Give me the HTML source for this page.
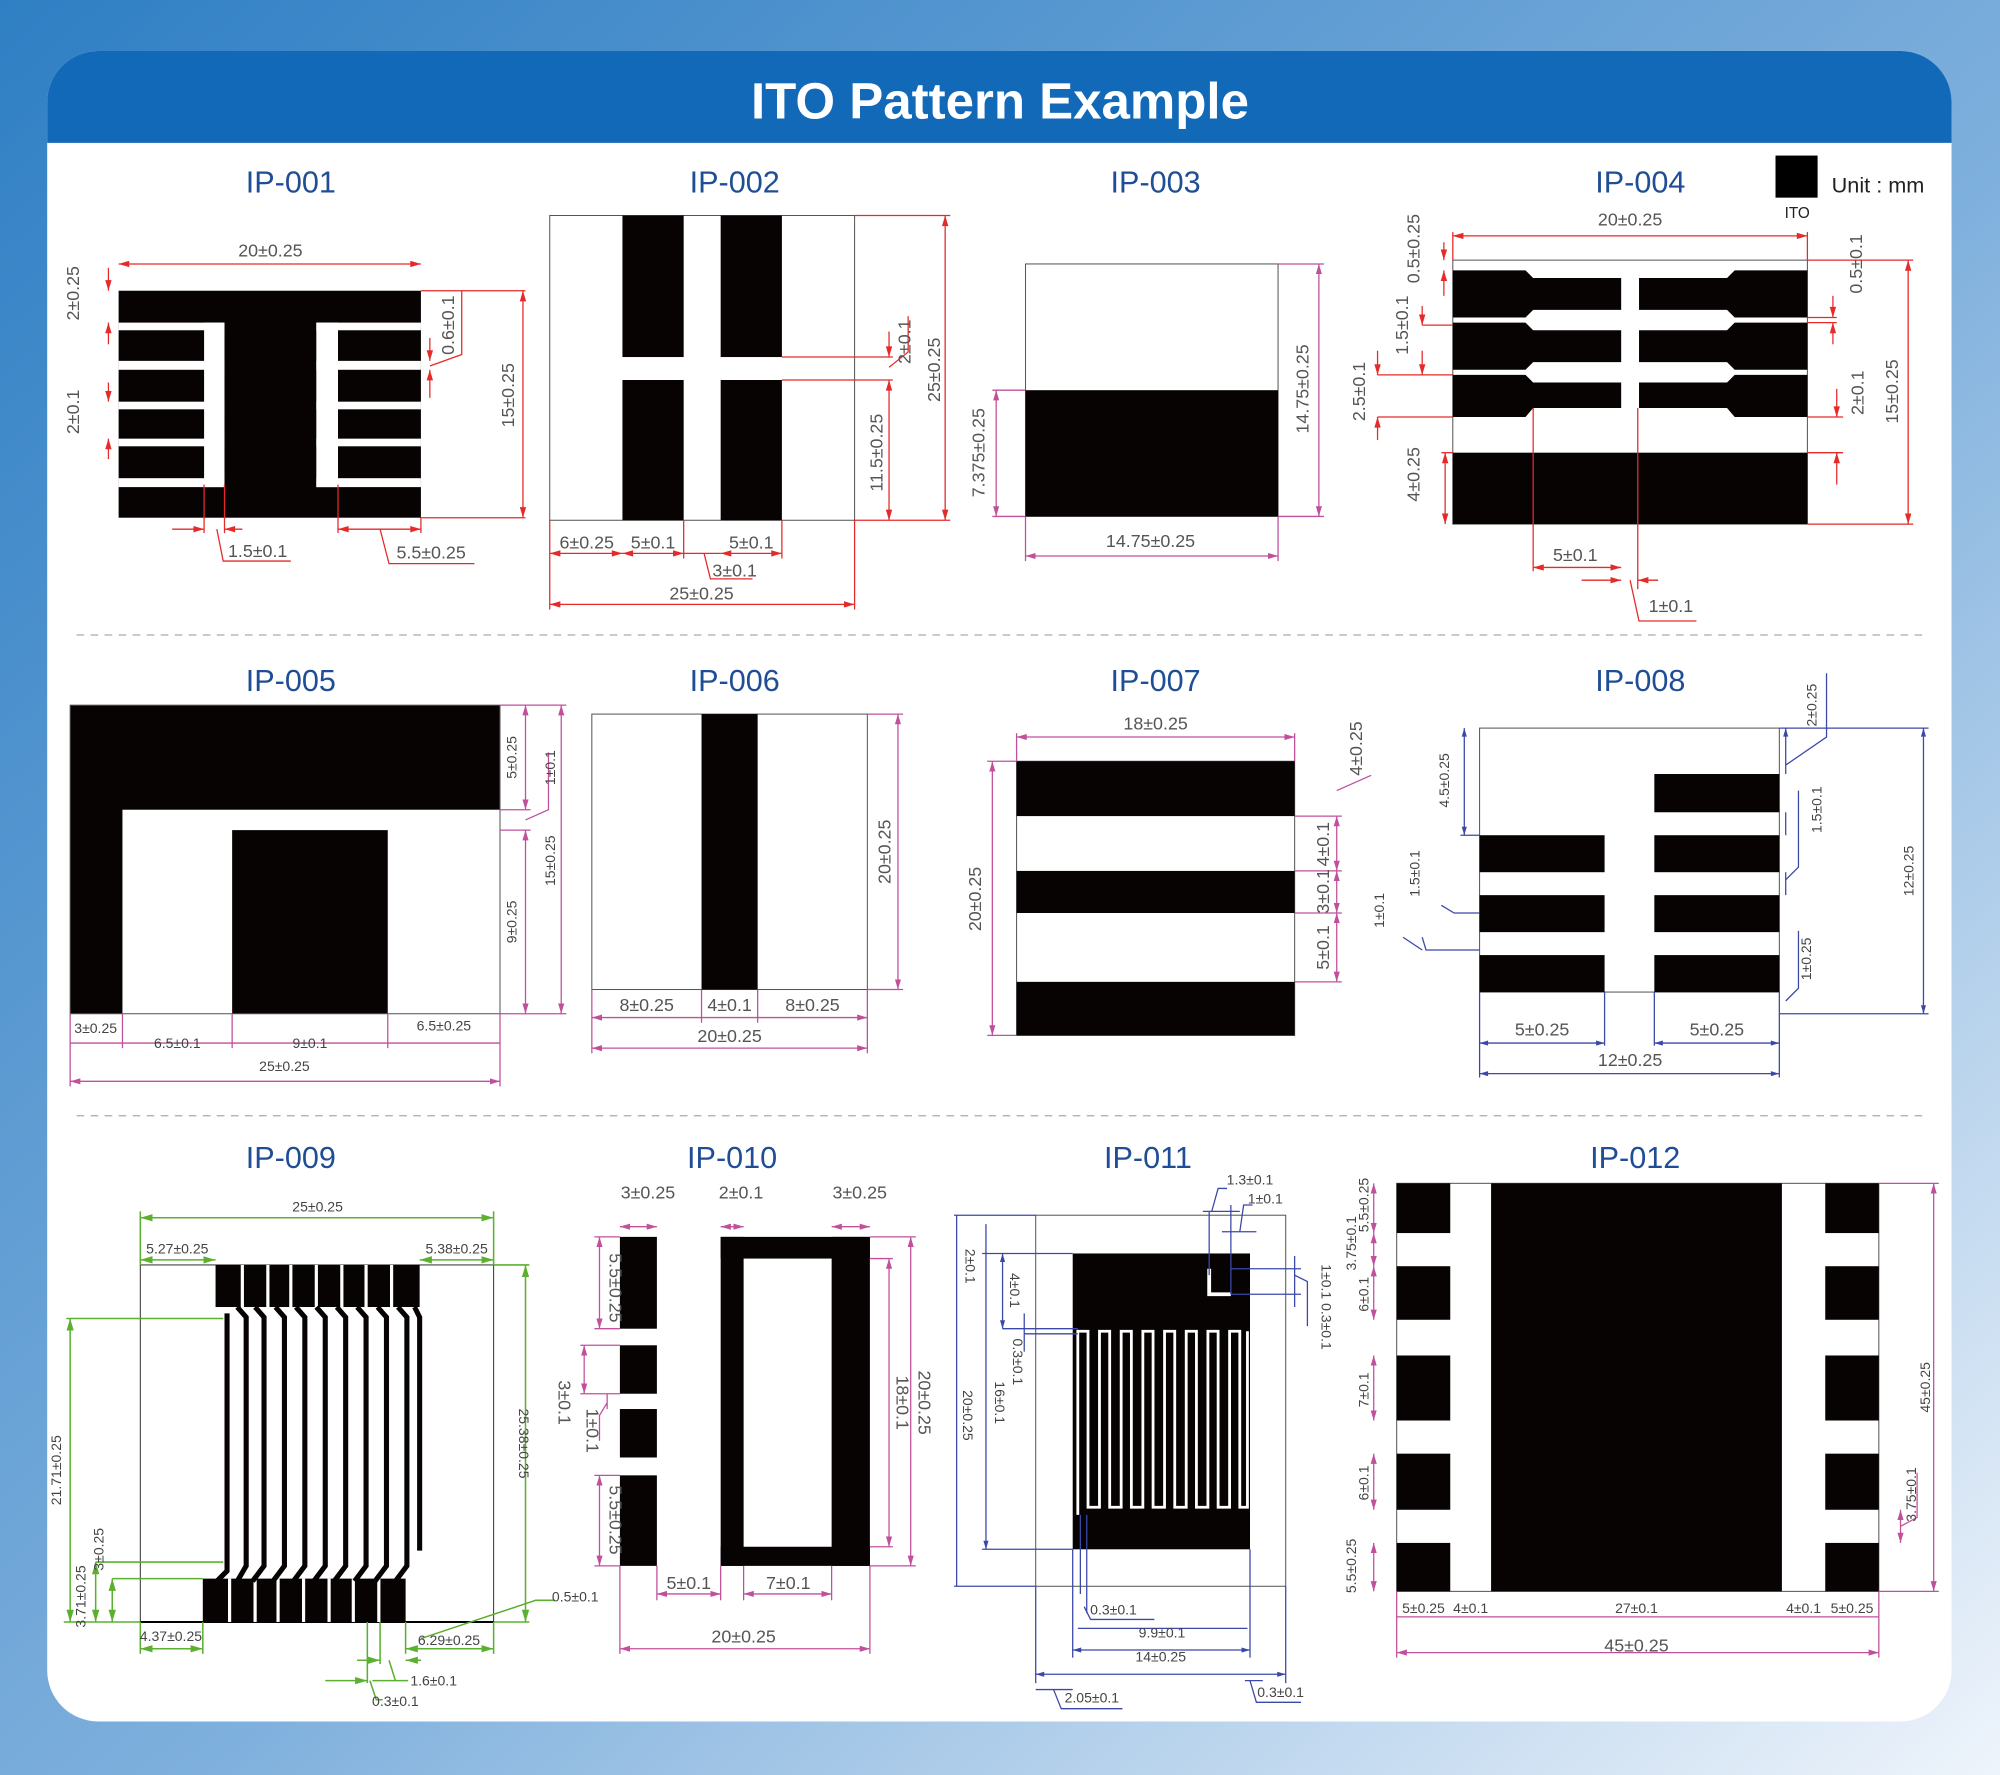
<!DOCTYPE html>
<html><head><meta charset="utf-8"><style>
html,body{margin:0;padding:0;width:2000px;height:1775px;overflow:hidden}
svg{display:block}
text{font-family:"Liberation Sans",sans-serif}
.t{fill:#1f4e96;font-size:24px;text-anchor:middle}
.dr{fill:#555;font-size:14px;text-anchor:middle;font-family:"Liberation Sans Narrow","Liberation Sans",sans-serif}
.ds{fill:#444;font-size:11px;text-anchor:middle}
.r{stroke:#e52a2a;stroke-width:1;fill:none}
.p{stroke:#c0509c;stroke-width:1;fill:none}
.b{stroke:#3a48a8;stroke-width:1;fill:none}
.g{stroke:#5cb030;stroke-width:1.2;fill:none}
.o{stroke:#555;stroke-width:0.8;fill:none}
</style></head><body>
<svg width="2000" height="1775" viewBox="0 0 1568 1392" preserveAspectRatio="none" xmlns="http://www.w3.org/2000/svg">
<defs>
<linearGradient id="bg" x1="0" y1="0" x2="1" y2="1">
<stop offset="0" stop-color="#2f7fc4"/><stop offset="0.55" stop-color="#7fb0dd"/><stop offset="1" stop-color="#eef4fb"/>
</linearGradient>
<marker id="ar" viewBox="0 0 10 6" refX="10" refY="3" markerWidth="9" markerHeight="5" orient="auto-start-reverse"><path d="M0,0L10,3L0,6z" fill="#e52a2a"/></marker>
<marker id="ap" viewBox="0 0 10 6" refX="10" refY="3" markerWidth="8" markerHeight="5" orient="auto-start-reverse"><path d="M0,0L10,3L0,6z" fill="#c0509c"/></marker>
<marker id="ab" viewBox="0 0 10 6" refX="10" refY="3" markerWidth="7" markerHeight="4" orient="auto-start-reverse"><path d="M0,0L10,3L0,6z" fill="#3a48a8"/></marker>
<marker id="ag" viewBox="0 0 10 6" refX="10" refY="3" markerWidth="8" markerHeight="5" orient="auto-start-reverse"><path d="M0,0L10,3L0,6z" fill="#5cb030"/></marker>
</defs>
<rect width="1568" height="1392" fill="url(#bg)"/>
<path d="M77,40H1490a40,40 0 0 1 40,40V1310a40,40 0 0 1 -40,40H77a40,40 0 0 1 -40,-40V80a40,40 0 0 1 40,-40z" fill="#fff"/>
<path d="M77,40H1490a40,40 0 0 1 40,40V112H37V80a40,40 0 0 1 40,-40z" fill="#1169b8"/>
<text x="784" y="93" fill="#fff" font-size="40" font-weight="bold" text-anchor="middle">ITO Pattern Example</text>
<line x1="60" y1="498" x2="1510" y2="498" stroke="#aaa" stroke-dasharray="6,5"/>
<line x1="60" y1="875" x2="1510" y2="875" stroke="#aaa" stroke-dasharray="6,5"/>

<text class="t" x="228" y="151">IP-001</text><text class="t" x="576" y="151">IP-002</text><text class="t" x="906" y="151">IP-003</text><text class="t" x="1286" y="151">IP-004</text>
<text class="t" x="228" y="542">IP-005</text><text class="t" x="576" y="542">IP-006</text><text class="t" x="906" y="542">IP-007</text><text class="t" x="1286" y="542">IP-008</text>
<text class="t" x="228" y="916">IP-009</text><text class="t" x="574" y="916">IP-010</text><text class="t" x="900" y="916">IP-011</text><text class="t" x="1282" y="916">IP-012</text>
<rect x="1392" y="122" width="33" height="33" fill="#000"/>
<text x="1436" y="151" font-size="17" fill="#222">Unit : mm</text>
<text x="1409" y="171" font-size="12" fill="#222" text-anchor="middle">ITO</text>

<!-- IP-001 -->
<rect x="93" y="228" width="237" height="178" fill="#070303"/>
<g fill="#fff">
<rect x="160" y="253" width="16" height="129"/><rect x="248" y="253" width="17" height="129"/>
<rect x="93" y="253" width="83" height="6"/><rect x="93" y="283" width="83" height="7"/><rect x="93" y="315" width="83" height="6"/><rect x="93" y="344" width="83" height="6"/><rect x="93" y="375" width="83" height="7"/>
<rect x="248" y="253" width="82" height="6"/><rect x="248" y="283" width="82" height="7"/><rect x="248" y="315" width="82" height="6"/><rect x="248" y="344" width="82" height="6"/><rect x="248" y="375" width="82" height="7"/>
</g>
<g class="r">
<line x1="93" y1="207" x2="330" y2="207" marker-start="url(#ar)" marker-end="url(#ar)"/>
<line x1="330" y1="228" x2="412" y2="228"/><line x1="330" y1="406" x2="412" y2="406"/>
<line x1="410" y1="228" x2="410" y2="406" marker-start="url(#ar)" marker-end="url(#ar)"/>
<line x1="85" y1="210" x2="85" y2="228" marker-end="url(#ar)"/><line x1="85" y1="253" x2="85" y2="270" marker-start="url(#ar)"/>
<line x1="85" y1="300" x2="85" y2="315" marker-end="url(#ar)"/><line x1="85" y1="344" x2="85" y2="360" marker-start="url(#ar)"/>
<line x1="337" y1="265" x2="337" y2="283" marker-end="url(#ar)"/><line x1="337" y1="290" x2="337" y2="312" marker-start="url(#ar)"/>
<polyline points="337,287 362,278 362,228"/>
<line x1="135" y1="415" x2="160" y2="415" marker-end="url(#ar)"/><line x1="176" y1="415" x2="190" y2="415" marker-start="url(#ar)"/>
<line x1="160" y1="380" x2="160" y2="418"/><line x1="176" y1="380" x2="176" y2="418"/>
<polyline points="170,415 175,440 228,440"/>
<line x1="265" y1="415" x2="330" y2="415" marker-start="url(#ar)" marker-end="url(#ar)"/><line x1="265" y1="380" x2="265" y2="418"/><line x1="330" y1="406" x2="330" y2="418"/>
<polyline points="298,415 305,442 372,442"/>
</g>
<text class="dr" x="212" y="201">20±0.25</text>
<text class="dr" x="202" y="437">1.5±0.1</text><text class="dr" x="338" y="438">5.5±0.25</text>
<text class="dr" transform="translate(62,230) rotate(-90)">2±0.25</text>
<text class="dr" transform="translate(62,323) rotate(-90)">2±0.1</text>
<text class="dr" transform="translate(356,255) rotate(-90)">0.6±0.1</text>
<text class="dr" transform="translate(403,310) rotate(-90)">15±0.25</text>

<!-- IP-002 -->
<rect x="431" y="169" width="239" height="239" class="o"/>
<g fill="#070303"><rect x="488" y="169" width="48" height="111"/><rect x="488" y="298" width="48" height="110"/><rect x="565" y="169" width="48" height="111"/><rect x="565" y="298" width="48" height="110"/></g>
<g class="r">
<line x1="670" y1="169" x2="745" y2="169"/><line x1="670" y1="408" x2="745" y2="408"/>
<line x1="741" y1="169" x2="741" y2="408" marker-start="url(#ar)" marker-end="url(#ar)"/>
<line x1="613" y1="280" x2="700" y2="280"/><line x1="613" y1="298" x2="700" y2="298"/>
<line x1="697" y1="260" x2="697" y2="280" marker-end="url(#ar)"/><line x1="697" y1="298" x2="697" y2="408" marker-start="url(#ar)" marker-end="url(#ar)"/>
<polyline points="697,288 712,276 712,248"/>
<line x1="431" y1="408" x2="431" y2="478"/><line x1="670" y1="408" x2="670" y2="478"/>
<line x1="431" y1="474" x2="670" y2="474" marker-start="url(#ar)" marker-end="url(#ar)"/>
<line x1="431" y1="434" x2="488" y2="434" marker-start="url(#ar)" marker-end="url(#ar)"/>
<line x1="488" y1="434" x2="536" y2="434" marker-start="url(#ar)" marker-end="url(#ar)"/>
<line x1="565" y1="434" x2="613" y2="434" marker-start="url(#ar)" marker-end="url(#ar)"/>
<line x1="536" y1="434" x2="565" y2="434"/><line x1="613" y1="408" x2="613" y2="438"/><line x1="536" y1="408" x2="536" y2="438"/>
<polyline points="552,434 557,454 590,454"/>
</g>
<text class="dr" x="460" y="430">6±0.25</text><text class="dr" x="512" y="430">5±0.1</text><text class="dr" x="589" y="430">5±0.1</text>
<text class="dr" x="576" y="452">3±0.1</text><text class="dr" x="550" y="470">25±0.25</text>
<text class="dr" transform="translate(737,290) rotate(-90)">25±0.25</text>
<text class="dr" transform="translate(692,355) rotate(-90)">11.5±0.25</text>
<text class="dr" transform="translate(714,268) rotate(-90)">2±0.1</text>

<!-- IP-003 -->
<rect x="804" y="207" width="198" height="198" class="o"/>
<rect x="804" y="306" width="198" height="99" fill="#070303"/>
<g class="p">
<line x1="1002" y1="207" x2="1038" y2="207"/><line x1="1002" y1="405" x2="1038" y2="405"/>
<line x1="1034" y1="207" x2="1034" y2="405" marker-start="url(#ap)" marker-end="url(#ap)"/>
<line x1="778" y1="306" x2="804" y2="306"/><line x1="778" y1="405" x2="804" y2="405"/>
<line x1="781" y1="306" x2="781" y2="405" marker-start="url(#ap)" marker-end="url(#ap)"/>
<line x1="804" y1="405" x2="804" y2="440"/><line x1="1002" y1="405" x2="1002" y2="440"/>
<line x1="804" y1="436" x2="1002" y2="436" marker-start="url(#ap)" marker-end="url(#ap)"/>
</g>
<text class="dr" x="902" y="429" font-size="17">14.75±0.25</text>
<text class="dr" font-size="17" transform="translate(1026,305) rotate(-90)">14.75±0.25</text>
<text class="dr" font-size="17" transform="translate(772,355) rotate(-90)">7.375±0.25</text>

<!-- IP-004 -->
<rect x="1139" y="204" width="278" height="207" class="o"/>
<g fill="#070303">
<path d="M1139,212H1196L1202,218H1271V243H1202L1196,249H1139z"/>
<path d="M1417,212H1360L1354,218H1285V243H1354L1360,249H1417z"/>
<path d="M1139,253H1196L1202,259H1271V284H1202L1196,290H1139z"/>
<path d="M1417,253H1360L1354,259H1285V284H1354L1360,290H1417z"/>
<path d="M1139,294H1196L1202,300H1271V320H1202L1196,327H1139z"/>
<path d="M1417,294H1360L1354,300H1285V320H1354L1360,327H1417z"/>
<rect x="1139" y="355" width="278" height="56"/>
</g>
<g class="r">
<line x1="1139" y1="185" x2="1417" y2="185" marker-start="url(#ar)" marker-end="url(#ar)"/>
<line x1="1139" y1="182" x2="1139" y2="204"/><line x1="1417" y1="182" x2="1417" y2="204"/>
<line x1="1417" y1="204" x2="1500" y2="204"/><line x1="1417" y1="411" x2="1500" y2="411"/>
<line x1="1496" y1="204" x2="1496" y2="411" marker-start="url(#ar)" marker-end="url(#ar)"/>
<line x1="1130" y1="355" x2="1139" y2="355"/><line x1="1133" y1="355" x2="1133" y2="411" marker-start="url(#ar)" marker-end="url(#ar)"/>
<line x1="1417" y1="355" x2="1445" y2="355"/><line x1="1417" y1="327" x2="1445" y2="327"/>
<line x1="1440" y1="327" x2="1440" y2="305" marker-start="url(#ar)"/><line x1="1440" y1="355" x2="1440" y2="380" marker-start="url(#ar)"/>
<line x1="1437" y1="232" x2="1437" y2="249" marker-end="url(#ar)"/><line x1="1437" y1="253" x2="1437" y2="270" marker-start="url(#ar)"/>
<line x1="1417" y1="249" x2="1440" y2="249"/><line x1="1417" y1="253" x2="1440" y2="253"/>
<line x1="1132" y1="190" x2="1132" y2="204" marker-end="url(#ar)"/><line x1="1132" y1="212" x2="1132" y2="232" marker-start="url(#ar)"/>
<line x1="1115" y1="240" x2="1115" y2="255" marker-end="url(#ar)"/><line x1="1115" y1="294" x2="1115" y2="275" marker-start="url(#ar)"/>
<line x1="1115" y1="255" x2="1139" y2="255"/><line x1="1080" y1="294" x2="1139" y2="294"/><line x1="1080" y1="327" x2="1139" y2="327"/>
<line x1="1080" y1="275" x2="1080" y2="294" marker-end="url(#ar)"/><line x1="1080" y1="327" x2="1080" y2="345" marker-start="url(#ar)"/>
<line x1="1202" y1="320" x2="1202" y2="448"/><line x1="1284" y1="320" x2="1284" y2="462"/>
<line x1="1202" y1="445" x2="1271" y2="445" marker-start="url(#ar)" marker-end="url(#ar)"/>
<line x1="1240" y1="455" x2="1271" y2="455" marker-end="url(#ar)"/><line x1="1284" y1="455" x2="1300" y2="455" marker-start="url(#ar)"/>
<polyline points="1278,455 1285,487 1330,487"/>
</g>
<text class="dr" x="1278" y="177" font-size="17">20±0.25</text>
<text class="dr" x="1235" y="440" font-size="17">5±0.1</text><text class="dr" x="1310" y="480" font-size="17">1±0.1</text>
<text class="dr" font-size="17" transform="translate(1113,195) rotate(-90)">0.5±0.25</text>
<text class="dr" font-size="17" transform="translate(1104,255) rotate(-90)">1.5±0.1</text>
<text class="dr" font-size="17" transform="translate(1070,307) rotate(-90)">2.5±0.1</text>
<text class="dr" font-size="17" transform="translate(1113,372) rotate(-90)">4±0.25</text>
<text class="dr" font-size="17" transform="translate(1460,207) rotate(-90)">0.5±0.1</text>
<text class="dr" font-size="17" transform="translate(1461,308) rotate(-90)">2±0.1</text>
<text class="dr" font-size="17" transform="translate(1488,307) rotate(-90)">15±0.25</text>

<!-- IP-005 -->
<rect x="55" y="553" width="337" height="242" fill="#070303"/>
<rect x="96" y="635" width="296" height="160" fill="#fff"/>
<rect x="182" y="651" width="122" height="144" fill="#070303"/>
<rect x="55" y="553" width="337" height="242" class="o"/>
<g class="p">
<line x1="392" y1="553" x2="444" y2="553"/><line x1="392" y1="795" x2="444" y2="795"/><line x1="392" y1="635" x2="416" y2="635"/><line x1="392" y1="651" x2="416" y2="651"/>
<line x1="440" y1="553" x2="440" y2="795" marker-start="url(#ap)" marker-end="url(#ap)"/>
<line x1="412" y1="553" x2="412" y2="635" marker-start="url(#ap)" marker-end="url(#ap)"/>
<line x1="412" y1="651" x2="412" y2="795" marker-start="url(#ap)" marker-end="url(#ap)"/>
<polyline points="412,643 430,635 430,590"/>
<line x1="55" y1="795" x2="55" y2="852"/><line x1="392" y1="795" x2="392" y2="852"/>
<line x1="55" y1="848" x2="392" y2="848" marker-start="url(#ap)" marker-end="url(#ap)"/>
<line x1="55" y1="818" x2="392" y2="818"/>
<line x1="96" y1="795" x2="96" y2="822"/><line x1="182" y1="795" x2="182" y2="822"/><line x1="304" y1="795" x2="304" y2="822"/>
</g>
<text class="ds" x="75" y="810">3±0.25</text><text class="ds" x="139" y="822">6.5±0.1</text><text class="ds" x="243" y="822">9±0.1</text><text class="ds" x="348" y="808">6.5±0.25</text><text class="ds" x="223" y="840">25±0.25</text>
<text class="ds" transform="translate(405,594) rotate(-90)">5±0.25</text>
<text class="ds" transform="translate(435,602) rotate(-90)">1±0.1</text>
<text class="ds" transform="translate(435,675) rotate(-90)">15±0.25</text>
<text class="ds" transform="translate(405,723) rotate(-90)">9±0.25</text>

<!-- IP-006 -->
<rect x="464" y="560" width="216" height="216" class="o"/>
<rect x="550" y="560" width="44" height="216" fill="#070303"/>
<g class="p">
<line x1="680" y1="560" x2="708" y2="560"/><line x1="680" y1="776" x2="708" y2="776"/>
<line x1="704" y1="560" x2="704" y2="776" marker-start="url(#ap)" marker-end="url(#ap)"/>
<line x1="464" y1="776" x2="464" y2="826"/><line x1="680" y1="776" x2="680" y2="826"/><line x1="550" y1="776" x2="550" y2="802"/><line x1="594" y1="776" x2="594" y2="802"/>
<line x1="464" y1="798" x2="680" y2="798" marker-start="url(#ap)" marker-end="url(#ap)"/>
<line x1="464" y1="822" x2="680" y2="822" marker-start="url(#ap)" marker-end="url(#ap)"/>
</g>
<text class="dr" x="507" y="793" font-size="16">8±0.25</text><text class="dr" x="572" y="793" font-size="16">4±0.1</text><text class="dr" x="637" y="793" font-size="16">8±0.25</text>
<text class="dr" x="572" y="817" font-size="16">20±0.25</text>
<text class="dr" font-size="16" transform="translate(698,668) rotate(-90)">20±0.25</text>

<!-- IP-007 -->
<rect x="797" y="597" width="218" height="215" class="o"/>
<g fill="#070303"><rect x="797" y="597" width="218" height="43"/><rect x="797" y="683" width="218" height="33"/><rect x="797" y="770" width="218" height="42"/></g>
<g class="p">
<line x1="797" y1="578" x2="1015" y2="578" marker-start="url(#ap)" marker-end="url(#ap)"/>
<line x1="797" y1="575" x2="797" y2="597"/><line x1="1015" y1="575" x2="1015" y2="597"/>
<line x1="774" y1="597" x2="797" y2="597"/><line x1="774" y1="812" x2="797" y2="812"/>
<line x1="778" y1="597" x2="778" y2="812" marker-start="url(#ap)" marker-end="url(#ap)"/>
<line x1="1015" y1="640" x2="1052" y2="640"/><line x1="1015" y1="683" x2="1052" y2="683"/><line x1="1015" y1="716" x2="1052" y2="716"/><line x1="1015" y1="770" x2="1052" y2="770"/>
<line x1="1048" y1="640" x2="1048" y2="683" marker-start="url(#ap)" marker-end="url(#ap)"/>
<line x1="1048" y1="683" x2="1048" y2="716" marker-start="url(#ap)" marker-end="url(#ap)"/>
<line x1="1048" y1="716" x2="1048" y2="770" marker-start="url(#ap)" marker-end="url(#ap)"/>
<polyline points="1048,620 1075,608"/>
</g>
<text class="dr" x="906" y="572" font-size="16">18±0.25</text>
<text class="dr" font-size="16" transform="translate(769,705) rotate(-90)">20±0.25</text>
<text class="dr" font-size="14" transform="translate(1068,587) rotate(-90)">4±0.25</text>
<text class="dr" font-size="14" transform="translate(1042,662) rotate(-90)">4±0.1</text>
<text class="dr" font-size="14" transform="translate(1042,699) rotate(-90)">3±0.1</text>
<text class="dr" font-size="14" transform="translate(1042,743) rotate(-90)">5±0.1</text>

<!-- IP-008 -->
<rect x="1160" y="571" width="235" height="207" class="o"/>
<g fill="#070303"><rect x="1297" y="607" width="98" height="30"/>
<rect x="1160" y="655" width="98" height="29"/><rect x="1160" y="702" width="98" height="29"/><rect x="1160" y="749" width="98" height="29"/>
<rect x="1297" y="655" width="98" height="29"/><rect x="1297" y="702" width="98" height="29"/><rect x="1297" y="749" width="98" height="29"/></g>
<g class="b">
<line x1="1395" y1="571" x2="1512" y2="571"/><line x1="1395" y1="795" x2="1512" y2="795"/>
<line x1="1508" y1="571" x2="1508" y2="795" marker-start="url(#ab)" marker-end="url(#ab)"/>
<line x1="1400" y1="607" x2="1400" y2="571" marker-end="url(#ab)"/><polyline points="1400,600 1432,578 1432,528"/>
<line x1="1400" y1="637" x2="1400" y2="655"/><line x1="1400" y1="684" x2="1400" y2="702"/>
<polyline points="1400,690 1410,680 1410,620"/><polyline points="1400,785 1410,775 1410,730"/>
<line x1="1148" y1="571" x2="1148" y2="655" marker-start="url(#ab)" marker-end="url(#ab)"/>
<line x1="1145" y1="655" x2="1160" y2="655"/>
<polyline points="1130,710 1140,716 1160,716"/><polyline points="1115,735 1118,745 1160,745"/><polyline points="1100,735 1115,745"/>
<line x1="1160" y1="778" x2="1160" y2="845"/><line x1="1395" y1="778" x2="1395" y2="845"/><line x1="1258" y1="778" x2="1258" y2="820"/><line x1="1297" y1="778" x2="1297" y2="820"/>
<line x1="1160" y1="818" x2="1258" y2="818" marker-start="url(#ab)" marker-end="url(#ab)"/>
<line x1="1297" y1="818" x2="1395" y2="818" marker-start="url(#ab)" marker-end="url(#ab)"/>
<line x1="1160" y1="842" x2="1395" y2="842" marker-start="url(#ab)" marker-end="url(#ab)"/>
</g>
<text class="dr" x="1209" y="812">5±0.25</text><text class="dr" x="1346" y="812">5±0.25</text><text class="dr" x="1278" y="836">12±0.25</text>
<text class="ds" transform="translate(1136,612) rotate(-90)">4.5±0.25</text>
<text class="ds" transform="translate(1113,685) rotate(-90)">1.5±0.1</text>
<text class="ds" transform="translate(1085,714) rotate(-90)">1±0.1</text>
<text class="ds" transform="translate(1424,553) rotate(-90)">2±0.25</text>
<text class="ds" transform="translate(1428,635) rotate(-90)">1.5±0.1</text>
<text class="ds" transform="translate(1420,752) rotate(-90)">1±0.25</text>
<text class="ds" transform="translate(1500,683) rotate(-90)">12±0.25</text>

<!-- IP-009 -->
<rect x="110" y="992" width="277" height="280" stroke="#333" stroke-width="0.8" fill="none"/>
<line x1="110" y1="1272" x2="387" y2="1272" stroke="#000" stroke-width="1.5"/>
<g fill="#070303">
<rect x="169" y="992" width="160" height="33"/>
<rect x="159" y="1238" width="159" height="34"/>
</g>
<g stroke="#fff" stroke-width="2.5">
<line x1="190" y1="992" x2="190" y2="1025"/><line x1="210" y1="992" x2="210" y2="1025"/><line x1="228" y1="992" x2="228" y2="1025"/><line x1="248" y1="992" x2="248" y2="1025"/><line x1="268" y1="992" x2="268" y2="1025"/><line x1="287" y1="992" x2="287" y2="1025"/><line x1="307" y1="992" x2="307" y2="1025"/>
<line x1="180" y1="1238" x2="180" y2="1272"/><line x1="200" y1="1238" x2="200" y2="1272"/><line x1="218" y1="1238" x2="218" y2="1272"/><line x1="238" y1="1238" x2="238" y2="1272"/><line x1="258" y1="1238" x2="258" y2="1272"/><line x1="277" y1="1238" x2="277" y2="1272"/><line x1="297" y1="1238" x2="297" y2="1272"/>
</g>
<g stroke="#070303" stroke-width="4" fill="none">
<polyline points="178,1030 178,1232 170,1240"/>
<polyline points="186,1025 193,1033 193,1228 186,1240"/>
<polyline points="200,1025 207,1033 207,1228 198,1240"/>
<polyline points="216,1025 223,1033 223,1228 214,1240"/>
<polyline points="232,1025 239,1033 239,1228 230,1240"/>
<polyline points="248,1025 255,1033 255,1228 246,1240"/>
<polyline points="264,1025 271,1033 271,1228 262,1240"/>
<polyline points="280,1025 287,1033 287,1228 278,1240"/>
<polyline points="296,1025 303,1033 303,1228 294,1240"/>
<polyline points="312,1025 319,1033 319,1228 310,1240"/>
<polyline points="325,1025 329,1033 329,1216"/>
</g>
<g class="g">
<line x1="110" y1="955" x2="387" y2="955" marker-start="url(#ag)" marker-end="url(#ag)"/>
<line x1="110" y1="950" x2="110" y2="992"/><line x1="387" y1="950" x2="387" y2="992"/>
<line x1="110" y1="988" x2="169" y2="988" marker-start="url(#ag)" marker-end="url(#ag)"/>
<line x1="329" y1="988" x2="387" y2="988" marker-start="url(#ag)" marker-end="url(#ag)"/>
<line x1="387" y1="992" x2="415" y2="992"/><line x1="387" y1="1272" x2="415" y2="1272"/>
<line x1="412" y1="992" x2="412" y2="1272" marker-start="url(#ag)" marker-end="url(#ag)"/>
<line x1="52" y1="1034" x2="175" y2="1034"/><line x1="50" y1="1272" x2="110" y2="1272"/>
<line x1="55" y1="1034" x2="55" y2="1272" marker-start="url(#ag)" marker-end="url(#ag)"/>
<line x1="75" y1="1225" x2="175" y2="1225"/><line x1="88" y1="1238" x2="159" y2="1238"/>
<line x1="75" y1="1225" x2="75" y2="1272" marker-start="url(#ag)" marker-end="url(#ag)"/>
<line x1="88" y1="1238" x2="88" y2="1272" marker-start="url(#ag)" marker-end="url(#ag)"/>
<line x1="110" y1="1272" x2="110" y2="1297"/><line x1="159" y1="1272" x2="159" y2="1297"/>
<line x1="110" y1="1293" x2="159" y2="1293" marker-start="url(#ag)" marker-end="url(#ag)"/>
<line x1="318" y1="1272" x2="318" y2="1297"/><line x1="387" y1="1272" x2="387" y2="1297"/>
<line x1="318" y1="1293" x2="387" y2="1293" marker-start="url(#ag)" marker-end="url(#ag)"/>
<polyline points="330,1285 420,1255 435,1255"/>
<line x1="288" y1="1272" x2="288" y2="1320"/><line x1="298" y1="1272" x2="298" y2="1305"/>
<line x1="280" y1="1302" x2="298" y2="1302" marker-end="url(#ag)"/><line x1="318" y1="1302" x2="330" y2="1302" marker-start="url(#ag)"/>
<line x1="255" y1="1318" x2="288" y2="1318" marker-end="url(#ag)"/><line x1="292" y1="1318" x2="310" y2="1318"/>
<polyline points="305,1302 310,1318 320,1318"/><polyline points="290,1318 295,1333 300,1333"/>
</g>
<text class="ds" x="249" y="950">25±0.25</text><text class="ds" x="139" y="983">5.27±0.25</text><text class="ds" x="358" y="983">5.38±0.25</text>
<text class="ds" x="134" y="1287">4.37±0.25</text><text class="ds" x="352" y="1290">6.29±0.25</text><text class="ds" x="451" y="1256">0.5±0.1</text>
<text class="ds" x="340" y="1322">1.6±0.1</text><text class="ds" x="310" y="1338">0.3±0.1</text>
<text class="ds" transform="translate(48,1153) rotate(-90)">21.71±0.25</text>
<text class="ds" transform="translate(407,1132) rotate(90)">25.38±0.25</text>
<text class="ds" transform="translate(81,1215) rotate(-90)">3±0.25</text>
<text class="ds" transform="translate(67,1252) rotate(-90)">3.71±0.25</text>

<!-- IP-010 -->
<g fill="#070303">
<rect x="486" y="970" width="29" height="72"/><rect x="486" y="1055" width="29" height="38"/><rect x="486" y="1105" width="29" height="38"/><rect x="486" y="1157" width="29" height="71"/>
<rect x="565" y="970" width="18" height="258"/><rect x="565" y="970" width="117" height="17"/><rect x="565" y="1213" width="117" height="15"/><rect x="652" y="970" width="30" height="258"/>
</g>
<g class="p">
<line x1="486" y1="962" x2="515" y2="962" marker-start="url(#ap)" marker-end="url(#ap)"/>
<line x1="565" y1="962" x2="583" y2="962" marker-start="url(#ap)" marker-end="url(#ap)"/>
<line x1="652" y1="962" x2="682" y2="962" marker-start="url(#ap)" marker-end="url(#ap)"/>
<line x1="682" y1="970" x2="718" y2="970"/><line x1="682" y1="1228" x2="718" y2="1228"/>
<line x1="714" y1="970" x2="714" y2="1228" marker-start="url(#ap)" marker-end="url(#ap)"/>
<line x1="682" y1="987" x2="700" y2="987"/><line x1="682" y1="1213" x2="700" y2="1213"/>
<line x1="697" y1="987" x2="697" y2="1213" marker-start="url(#ap)" marker-end="url(#ap)"/>
<line x1="466" y1="970" x2="486" y2="970"/><line x1="466" y1="1042" x2="486" y2="1042"/><line x1="466" y1="1157" x2="486" y2="1157"/><line x1="466" y1="1228" x2="486" y2="1228"/>
<line x1="470" y1="970" x2="470" y2="1042" marker-start="url(#ap)" marker-end="url(#ap)"/>
<line x1="470" y1="1157" x2="470" y2="1228" marker-start="url(#ap)" marker-end="url(#ap)"/>
<polyline points="455,1055 486,1055"/><polyline points="455,1093 486,1093"/><line x1="458" y1="1055" x2="458" y2="1093" marker-start="url(#ap)" marker-end="url(#ap)"/>
<line x1="476" y1="1093" x2="476" y2="1105" /><polyline points="476,1100 470,1110 470,1130"/>
<line x1="486" y1="1228" x2="486" y2="1297"/><line x1="682" y1="1228" x2="682" y2="1297"/>
<line x1="486" y1="1293" x2="682" y2="1293" marker-start="url(#ap)" marker-end="url(#ap)"/>
<line x1="515" y1="1228" x2="515" y2="1255"/><line x1="565" y1="1228" x2="565" y2="1255"/><line x1="583" y1="1228" x2="583" y2="1255"/><line x1="652" y1="1228" x2="652" y2="1255"/>
<line x1="515" y1="1250" x2="565" y2="1250" marker-start="url(#ap)" marker-end="url(#ap)"/>
<line x1="583" y1="1250" x2="652" y2="1250" marker-start="url(#ap)" marker-end="url(#ap)"/>
</g>
<text class="dr" x="508" y="940">3±0.25</text><text class="dr" x="581" y="940">2±0.1</text><text class="dr" x="674" y="940">3±0.25</text>
<text class="dr" x="540" y="1246">5±0.1</text><text class="dr" x="618" y="1246">7±0.1</text><text class="dr" x="583" y="1288">20±0.25</text>
<text class="dr" transform="translate(478,1010) rotate(90)">5.5±0.25</text>
<text class="dr" transform="translate(478,1192) rotate(90)">5.5±0.25</text>
<text class="dr" transform="translate(438,1100) rotate(90)">3±0.1</text>
<text class="dr" transform="translate(460,1122) rotate(90)">1±0.1</text>
<text class="dr" transform="translate(703,1100) rotate(90)">18±0.1</text>
<text class="dr" transform="translate(720,1100) rotate(90)">20±0.25</text>

<!-- IP-011 -->
<rect x="812" y="953" width="196" height="291" class="o"/>
<rect x="841" y="983" width="139" height="232" fill="#070303"/>
<polyline points="845,1188 845,1044 853,1044 853,1182 862,1182 862,1044 870,1044 870,1182 879,1182 879,1044 887,1044 887,1182 896,1182 896,1044 904,1044 904,1182 913,1182 913,1044 921,1044 921,1182 930,1182 930,1044 938,1044 938,1182 947,1182 947,1044 955,1044 955,1182 964,1182 964,1044 972,1044 972,1182 978,1182 978,1044" stroke="#fff" stroke-width="2.2" fill="none"/>
<path d="M948,995V1015H965" stroke="#fff" stroke-width="3" fill="none"/>
<g class="b">
<line x1="748" y1="953" x2="812" y2="953"/><line x1="748" y1="1244" x2="812" y2="1244"/><line x1="750" y1="953" x2="750" y2="1244"/>
<line x1="770" y1="983" x2="841" y2="983"/><line x1="770" y1="1215" x2="841" y2="1215"/><line x1="773" y1="960" x2="773" y2="1215" marker-end="url(#ab)"/>
<line x1="786" y1="983" x2="786" y2="1042" marker-start="url(#ab)" marker-end="url(#ab)"/>
<line x1="786" y1="1042" x2="845" y2="1042"/><line x1="803" y1="1046" x2="845" y2="1046"/><line x1="803" y1="1030" x2="803" y2="1060"/>
<line x1="812" y1="1244" x2="812" y2="1320"/><line x1="1008" y1="1244" x2="1008" y2="1320"/>
<line x1="812" y1="1313" x2="1008" y2="1313" marker-start="url(#ab)" marker-end="url(#ab)"/>
<line x1="841" y1="1215" x2="841" y2="1300"/><line x1="980" y1="1215" x2="980" y2="1300"/>
<line x1="841" y1="1294" x2="980" y2="1294" marker-start="url(#ab)" marker-end="url(#ab)"/>
<line x1="845" y1="1277" x2="978" y2="1277"/>
<line x1="847" y1="1188" x2="847" y2="1250"/><line x1="852" y1="1188" x2="852" y2="1265"/>
<polyline points="850,1260 855,1270 905,1270"/>
<line x1="812" y1="1325" x2="841" y2="1325"/><polyline points="826,1325 832,1340 880,1340"/>
<line x1="976" y1="1318" x2="990" y2="1318"/><polyline points="980,1318 985,1335 1020,1335"/>
<line x1="965" y1="945" x2="965" y2="1015"/><line x1="948" y1="950" x2="948" y2="1000"/><line x1="943" y1="950" x2="972" y2="950"/><line x1="958" y1="966" x2="985" y2="966"/>
<polyline points="950,950 955,932 962,932"/><polyline points="972,966 975,945 982,945"/>
<line x1="965" y1="995" x2="1020" y2="995"/><line x1="965" y1="1015" x2="1020" y2="1015"/><line x1="1015" y1="985" x2="1015" y2="1025"/>
<polyline points="1015,1000 1025,1005 1025,1040"/>
</g>
<text class="ds" x="980" y="929">1.3±0.1</text><text class="ds" x="992" y="944">1±0.1</text>
<text class="ds" x="873" y="1266">0.3±0.1</text><text class="ds" x="911" y="1284">9.9±0.1</text><text class="ds" x="910" y="1303">14±0.25</text>
<text class="ds" x="856" y="1335">2.05±0.1</text><text class="ds" x="1004" y="1331">0.3±0.1</text>
<text class="ds" transform="translate(757,993) rotate(90)">2±0.1</text>
<text class="ds" transform="translate(792,1012) rotate(90)">4±0.1</text>
<text class="ds" transform="translate(794,1068) rotate(90)">0.3±0.1</text>
<text class="ds" transform="translate(780,1100) rotate(90)">16±0.1</text>
<text class="ds" transform="translate(755,1110) rotate(90)">20±0.25</text>
<text class="ds" transform="translate(1036,1025) rotate(90)">1±0.1 0.3±0.1</text>

<!-- IP-012 -->
<rect x="1095" y="928" width="378" height="320" class="o"/>
<rect x="1169" y="928" width="228" height="320" fill="#070303"/>
<g fill="#070303">
<rect x="1095" y="928" width="42" height="39"/><rect x="1095" y="993" width="42" height="42"/><rect x="1095" y="1063" width="42" height="51"/><rect x="1095" y="1140" width="42" height="44"/><rect x="1095" y="1210" width="42" height="38"/>
<rect x="1431" y="928" width="42" height="39"/><rect x="1431" y="993" width="42" height="42"/><rect x="1431" y="1063" width="42" height="51"/><rect x="1431" y="1140" width="42" height="44"/><rect x="1431" y="1210" width="42" height="38"/>
</g>
<g class="p">
<line x1="1473" y1="928" x2="1520" y2="928"/><line x1="1473" y1="1248" x2="1520" y2="1248"/>
<line x1="1516" y1="928" x2="1516" y2="1248" marker-start="url(#ap)" marker-end="url(#ap)"/>
<line x1="1095" y1="1248" x2="1095" y2="1300"/><line x1="1473" y1="1248" x2="1473" y2="1300"/>
<line x1="1095" y1="1296" x2="1473" y2="1296" marker-start="url(#ap)" marker-end="url(#ap)"/>
<line x1="1095" y1="1268" x2="1473" y2="1268"/>
<line x1="1077" y1="928" x2="1077" y2="967" marker-start="url(#ap)" marker-end="url(#ap)"/>
<line x1="1077" y1="967" x2="1077" y2="993" marker-start="url(#ap)" marker-end="url(#ap)"/>
<line x1="1077" y1="993" x2="1077" y2="1035" marker-start="url(#ap)" marker-end="url(#ap)"/>
<line x1="1077" y1="1063" x2="1077" y2="1114" marker-start="url(#ap)" marker-end="url(#ap)"/>
<line x1="1077" y1="1140" x2="1077" y2="1184" marker-start="url(#ap)" marker-end="url(#ap)"/>
<line x1="1077" y1="1210" x2="1077" y2="1248" marker-start="url(#ap)" marker-end="url(#ap)"/>
<line x1="1490" y1="1184" x2="1490" y2="1210" marker-start="url(#ap)" marker-end="url(#ap)"/>
<polyline points="1490,1197 1503,1190 1503,1155"/>
</g>
<text class="ds" x="1116" y="1265">5±0.25</text><text class="ds" x="1153" y="1265">4±0.1</text><text class="ds" x="1283" y="1265">27±0.1</text><text class="ds" x="1414" y="1265">4±0.1</text><text class="ds" x="1452" y="1265">5±0.25</text>
<text class="dr" x="1283" y="1295" font-size="12">45±0.25</text>
<text class="ds" transform="translate(1073,945) rotate(-90)">5.5±0.25</text>
<text class="ds" transform="translate(1063,975) rotate(-90)">3.75±0.1</text>
<text class="ds" transform="translate(1073,1015) rotate(-90)">6±0.1</text>
<text class="ds" transform="translate(1073,1090) rotate(-90)">7±0.1</text>
<text class="ds" transform="translate(1073,1163) rotate(-90)">6±0.1</text>
<text class="ds" transform="translate(1063,1228) rotate(-90)">5.5±0.25</text>
<text class="ds" transform="translate(1513,1088) rotate(-90)">45±0.25</text>
<text class="ds" transform="translate(1502,1172) rotate(-90)">3.75±0.1</text>
</svg>
</body></html>
